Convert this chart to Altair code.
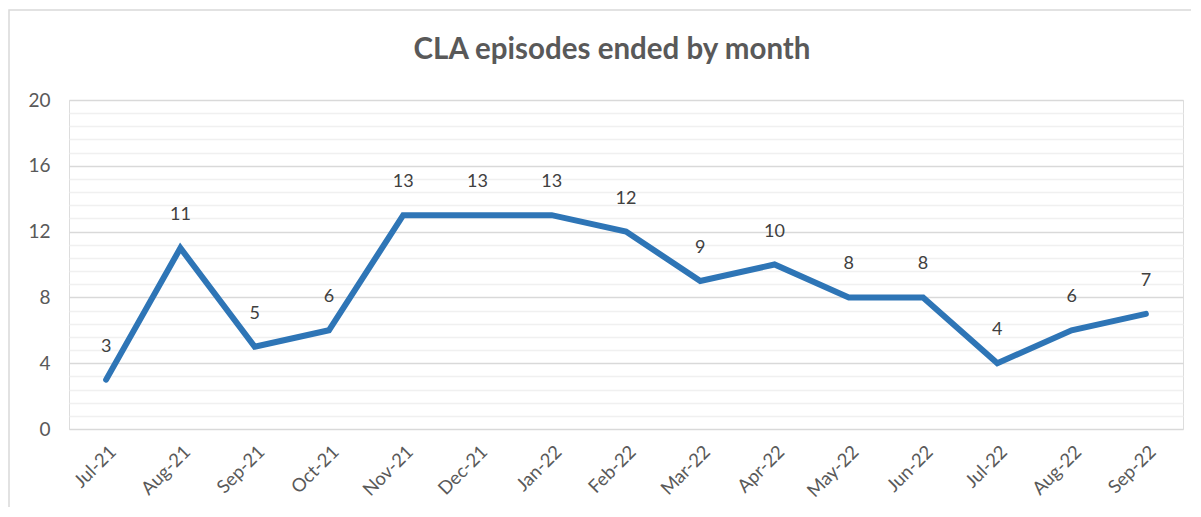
import altair as alt
import pandas as pd

months = ["Jul-21", "Aug-21", "Sep-21", "Oct-21", "Nov-21", "Dec-21", "Jan-22",
          "Feb-22", "Mar-22", "Apr-22", "May-22", "Jun-22", "Jul-22", "Aug-22", "Sep-22"]
values = [3, 11, 5, 6, 13, 13, 13, 12, 9, 10, 8, 8, 4, 6, 7]
grid_values = [0, 0.8, 1.6, 2.4, 3.2, 4, 4.8, 5.6, 6.4, 7.2, 8, 8.8, 9.6, 10.4, 11.2,
               12, 12.8, 13.6, 14.4, 15.2, 16, 16.8, 17.6, 18.4, 19.2, 20]
title_text = "CLA episodes ended by month"

df = pd.DataFrame({"month": months, "value": values})

FONT = "Lato"
W, H = 1114, 329

x = alt.X("month:N", sort=months, title=None,
          scale=alt.Scale(padding=0.5),
          axis=alt.Axis(labelAngle=315, labelFontSize=18.5, labelColor="#595959",
                        labelFont=FONT, ticks=False, domain=False, grid=False,
                        labelPadding=13))
y = alt.Y("value:Q", title=None,
          scale=alt.Scale(domain=[0, 20], nice=False),
          axis=alt.Axis(values=grid_values, tickCount=100, labelOverlap=False,
                        labelExpr="datum.value % 4 === 0 ? format(datum.value, 'd') : ''",
                        labelFontSize=19, labelColor="#595959", labelFont=FONT,
                        labelPadding=19, ticks=False, domain=False,
                        gridColor=alt.condition("datum.value % 4 === 0",
                                                alt.value("#d9d9d9"), alt.value("#f0f0f0")),
                        gridWidth=1.5))

one = pd.DataFrame({"t": [title_text]})

border = alt.Chart(one).mark_rect(
    fill="transparent", stroke="#d9d9d9", strokeWidth=1.5
).encode(x=alt.value(-60), x2=alt.value(W + 40), y=alt.value(-90), y2=alt.value(H + 120))

title = alt.Chart(one).mark_text(
    fontSize=29.5, font=FONT, fontWeight="bold", color="#595959",
    align="center", baseline="middle"
).encode(x=alt.value(W / 2 - 14), y=alt.value(-50), text="t:N")

base = alt.Chart(df)
line = base.mark_line(color="#2E75B6", strokeWidth=6, strokeCap="round",
                      strokeJoin="miter").encode(x=x, y=y)
labels = base.mark_text(dy=-33, fontSize=18, color="#404040", font=FONT,
                        baseline="middle").encode(x=x, y=y, text="value:Q")

chart = alt.layer(border, title, line, labels).properties(
    width=W, height=H,
    padding={"left": 61, "top": 92, "right": 8, "bottom": 78},
    autosize=alt.AutoSizeParams(type="none"),
).configure_view(strokeWidth=0, stroke="transparent").configure(background="white")

chart.save("out.html", embed_options={"renderer": "svg", "actions": False})
